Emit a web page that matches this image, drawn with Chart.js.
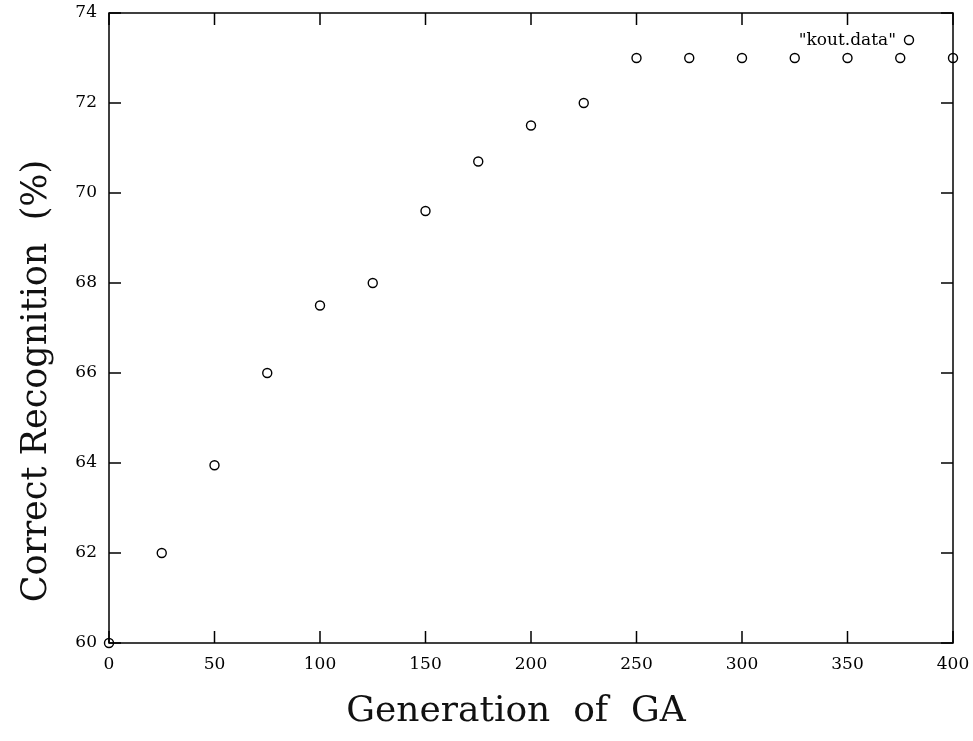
<!DOCTYPE html>
<html>
<head>
<meta charset="utf-8">
<script src="https://cdn.jsdelivr.net/npm/chart.js@4"></script>
<style>
  html, body { margin: 0; padding: 0; background: #fff; }
  #wrap { width: 973px; height: 741px; }
</style>
</head>
<body>
<div id="wrap"><canvas id="chart" width="973" height="741"></canvas></div>
<script>
// data
const generations = [0, 25, 50, 75, 100, 125, 150, 175, 200, 225, 250, 275, 300, 325, 350, 375, 400];
const recognition = [60, 62, 63.95, 66, 67.5, 68, 69.6, 70.7, 71.5, 72, 73, 73, 73, 73, 73, 73, 73];
const xTicks = [0, 50, 100, 150, 200, 250, 300, 350, 400];
const yTicks = [60, 62, 64, 66, 68, 70, 72, 74];
const seriesName = '"kout.data"';
const xTitle = 'Generation  of  GA';
const yTitle = 'Correct Recognition  (%)';

const serif = '"DejaVu Serif", "Liberation Serif", serif';

// frame, inward ticks on all four sides, titles and key
const framePlugin = {
  id: 'frame',
  afterDraw(chart) {
    const ctx = chart.ctx;
    const a = chart.chartArea;
    const xs = chart.scales.x, ys = chart.scales.y;
    ctx.save();
    ctx.strokeStyle = '#000';
    ctx.lineWidth = 1.5;
    ctx.strokeRect(a.left, a.top, a.right - a.left, a.bottom - a.top);
    const len = 12;
    ctx.beginPath();
    xTicks.forEach(v => {
      const px = xs.getPixelForValue(v);
      ctx.moveTo(px, a.bottom); ctx.lineTo(px, a.bottom - len);
      ctx.moveTo(px, a.top); ctx.lineTo(px, a.top + len);
    });
    yTicks.forEach(v => {
      const py = ys.getPixelForValue(v);
      ctx.moveTo(a.left, py); ctx.lineTo(a.left + len, py);
      ctx.moveTo(a.right, py); ctx.lineTo(a.right - len, py);
    });
    ctx.stroke();

    // axis titles
    ctx.fillStyle = '#111';
    ctx.font = '36px ' + serif;
    ctx.textAlign = 'center';
    ctx.textBaseline = 'middle';
    ctx.fillText(xTitle, 516, 712);
    ctx.font = '35px ' + serif;
    ctx.save();
    ctx.translate(37, 381);
    ctx.rotate(-Math.PI / 2);
    ctx.fillText(yTitle, 0, 0);
    ctx.restore();

    // key
    ctx.fillStyle = '#000';
    ctx.font = '17px ' + serif;
    ctx.textAlign = 'right';
    ctx.fillText(chart.data.datasets[0].label, 896, 41);
    ctx.beginPath();
    ctx.lineWidth = 1.4;
    ctx.arc(909, 40, 4.5, 0, Math.PI * 2);
    ctx.stroke();
    ctx.restore();
  }
};

new Chart(document.getElementById('chart'), {
  type: 'scatter',
  data: {
    datasets: [{
      label: seriesName,
      data: generations.map((g, i) => ({ x: g, y: recognition[i] })),
      pointStyle: 'circle',
      pointRadius: 4.5,
      pointBorderWidth: 1.4,
      pointBorderColor: '#000',
      pointBackgroundColor: 'rgba(255,255,255,0)',
      clip: false
    }]
  },
  options: {
    responsive: false,
    animation: false,
    devicePixelRatio: 1,
    layout: { padding: { top: 13, right: 20, left: 0, bottom: 0 } },
    plugins: {
      legend: { display: false },
      tooltip: { enabled: false }
    },
    scales: {
      x: {
        type: 'linear',
        min: 0, max: 400,
        afterBuildTicks: s => { s.ticks = xTicks.map(v => ({ value: v })); },
        afterFit: s => { s.height = 98; s.paddingLeft = 0; s.paddingRight = 0; },
        grid: { display: false, drawTicks: false },
        border: { display: false },
        ticks: { color: '#000', padding: 11, font: { family: serif, size: 17 } }
      },
      y: {
        type: 'linear',
        min: 60, max: 74,
        afterBuildTicks: s => { s.ticks = yTicks.map(v => ({ value: v })); },
        afterFit: s => { s.width = 109; s.paddingTop = 0; s.paddingBottom = 0; },
        grid: { display: false, drawTicks: false },
        border: { display: false },
        ticks: { color: '#000', padding: 12, font: { family: serif, size: 17 } }
      }
    }
  },
  plugins: [framePlugin]
});
</script>
</body>
</html>
